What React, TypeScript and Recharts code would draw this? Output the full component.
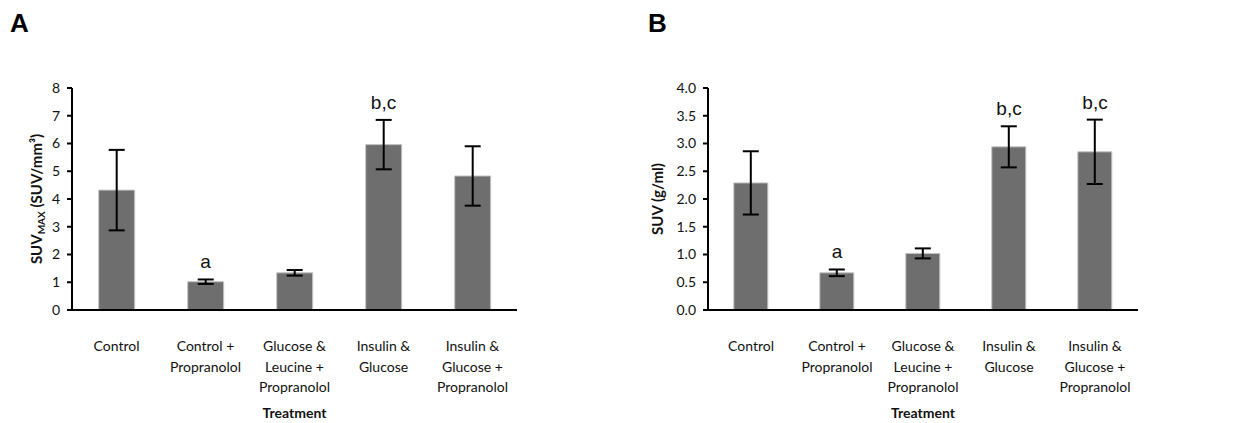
import { BarChart, Bar, XAxis, YAxis, ErrorBar, ReferenceDot, Label } from "recharts";

const treatments = [
  "Control",
  "Control +\nPropranolol",
  "Glucose &\nLeucine +\nPropranolol",
  "Insulin &\nGlucose",
  "Insulin &\nGlucose +\nPropranolol",
];

const suvMaxMeans = [4.32, 1.02, 1.34, 5.96, 4.83];
const suvMaxErrors = [1.45, 0.08, 0.1, 0.89, 1.07];
const suvMaxMarks = ["", "a", "", "b,c", ""];
const suvMaxTicks = [0, 1, 2, 3, 4, 5, 6, 7, 8];

const suvMeans = [2.29, 0.67, 1.02, 2.94, 2.85];
const suvErrors = [0.57, 0.06, 0.09, 0.37, 0.58];
const suvMarks = ["", "a", "", "b,c", "b,c"];
const suvTicks = [0, 0.5, 1, 1.5, 2, 2.5, 3, 3.5, 4];

const FONT = "Lato, 'Noto Sans', sans-serif";
const BAR_FILL = "#6e6e6e";

function TreatmentTick(props: any) {
  const { x, y, payload } = props;
  const lines = String(payload.value).split("\n");
  return (
    <text x={x} y={y + 33} textAnchor="middle" fontFamily={FONT} fontSize={14} fill="#111">
      {lines.map((ln, i) => (
        <tspan key={i} x={x} dy={i === 0 ? 0 : 20.5}>
          {ln}
        </tspan>
      ))}
    </text>
  );
}

function YLabel(props: any) {
  const { viewBox, main, sub, rest, cx } = props;
  const cy = viewBox.y + viewBox.height / 2;
  return (
    <text
      x={cx}
      y={cy}
      transform={`rotate(-90, ${cx}, ${cy})`}
      textAnchor="middle"
      fontFamily={FONT}
      fontWeight="bold"
      fontSize={15}
      fill="#111"
    >
      {main}
      {sub ? (
        <tspan fontSize={10} dy={3}>
          {sub}
        </tspan>
      ) : null}
      <tspan dy={sub ? -3 : 0}>{rest}</tspan>
    </text>
  );
}

type PanelProps = {
  letter: string;
  left: number;
  means: number[];
  errors: number[];
  marks: string[];
  ticks: number[];
  decimals: number;
  axisWidth: number;
  plotRight: number;
  yMain: string;
  ySub: string;
  yRest: string;
  yLabelX: number;
};

function Panel(p: PanelProps) {
  const data = treatments.map((t, i) => ({ name: t, mean: p.means[i], err: p.errors[i] }));
  const max = p.ticks[p.ticks.length - 1];
  return (
    <div style={{ position: "absolute", left: p.left, top: 0, width: 621, height: 423 }}>
      <div
        style={{
          position: "absolute",
          left: p.letter === "A" ? 10 : 28,
          top: 8,
          fontFamily: "'Liberation Sans', Arial, sans-serif",
          fontWeight: "bold",
          fontSize: 26,
        }}
      >
        {p.letter}
      </div>
      <BarChart
        width={621}
        height={423}
        data={data}
        barCategoryGap="30%"
        margin={{ top: 88, right: 621 - p.plotRight, bottom: 3, left: 0 }}
      >
        <XAxis
          dataKey="name"
          height={110}
          tick={<TreatmentTick />}
          tickLine={false}
          interval={0}
          axisLine={{ stroke: "#000", strokeWidth: 2 }}
        >
          <Label
            value="Treatment"
            position="insideBottom"
            offset={2}
            style={{ fontFamily: FONT, fontWeight: "bold", fontSize: 14, fill: "#111" }}
          />
        </XAxis>
        <YAxis
          width={p.axisWidth}
          domain={[0, max]}
          ticks={p.ticks}
          interval={0}
          tickSize={5}
          tickMargin={7}
          tickFormatter={(v: number) => v.toFixed(p.decimals)}
          tick={{ fontFamily: FONT, fontSize: 14, fill: "#111" }}
          tickLine={{ stroke: "#000", strokeWidth: 2 }}
          axisLine={{ stroke: "#000", strokeWidth: 2 }}
        >
          <Label
            content={<YLabel main={p.yMain} sub={p.ySub} rest={p.yRest} cx={p.yLabelX} />}
          />
        </YAxis>
        <Bar dataKey="mean" fill={BAR_FILL} stroke="#c4c4c4" strokeWidth={1} isAnimationActive={false}>
          <ErrorBar dataKey="err" width={8} stroke="#000" strokeWidth={2} />
        </Bar>
        {data.map((d, i) =>
          p.marks[i] ? (
            <ReferenceDot
              key={i}
              x={d.name}
              y={d.mean + d.err}
              r={0}
              fill="none"
              stroke="none"
              label={{
                value: p.marks[i],
                position: "top",
                offset: 11,
                style: {
                  fontFamily: "'Liberation Sans', Arial, sans-serif",
                  fontSize: 19,
                  fill: "#111",
                },
              }}
            />
          ) : null
        )}
      </BarChart>
    </div>
  );
}

export default function App() {
  return (
    <div style={{ position: "absolute", left: 0, top: 0, width: 1243, height: 423, background: "#fff" }}>
      <Panel
        letter="A"
        left={0}
        means={suvMaxMeans}
        errors={suvMaxErrors}
        marks={suvMaxMarks}
        ticks={suvMaxTicks}
        decimals={0}
        axisWidth={72}
        plotRight={517}
        yMain="SUV"
        ySub="MAX"
        yRest=" (SUV/mm³)"
        yLabelX={42}
      />
      <Panel
        letter="B"
        left={620}
        means={suvMeans}
        errors={suvErrors}
        marks={suvMarks}
        ticks={suvTicks}
        decimals={1}
        axisWidth={88}
        plotRight={518}
        yMain="SUV (g/ml)"
        ySub=""
        yRest=""
        yLabelX={43}
      />
    </div>
  );
}
